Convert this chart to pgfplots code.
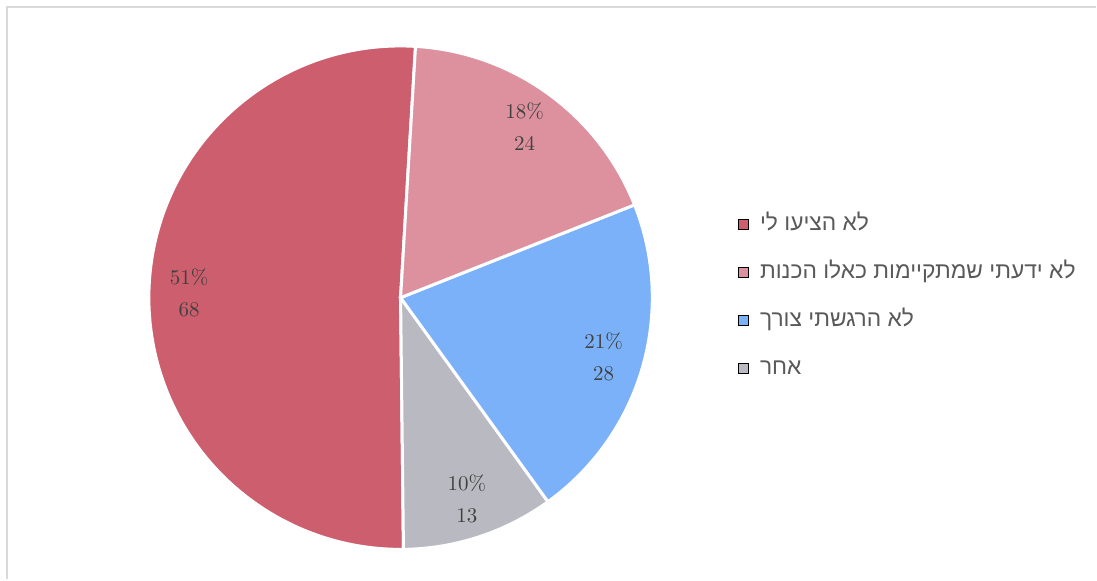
\documentclass[border=0pt]{standalone}
\usepackage{fontspec}
\usepackage{pgfplots}
\pgfplotsset{compat=1.18}
\TeXXeTstate=1
\newfontfamily\hebfont[Script=Hebrew]{Liberation Sans}
\definecolor{cRed}{HTML}{CD5E6E}
\definecolor{cPink}{HTML}{DD919E}
\definecolor{cBlue}{HTML}{7BB1F9}
\definecolor{cGray}{HTML}{B9B9C1}
\definecolor{txt}{HTML}{404040}
\definecolor{legtxt}{HTML}{595959}

% counts: 68, 13, 28, 24 (total 133), drawn counter-clockwise from the top
\def\total{133}
\pgfmathsetmacro\aS{86.6}
\pgfmathsetmacro\aA{\aS+68/\total*360}
\pgfmathsetmacro\aB{\aA+13/\total*360}
\pgfmathsetmacro\aC{\aB+28/\total*360}
\pgfmathsetmacro\aD{\aC+24/\total*360}
\pgfmathsetmacro\mA{(\aS+\aA)/2}
\pgfmathsetmacro\mB{(\aA+\aB)/2}
\pgfmathsetmacro\mC{(\aB+\aC)/2}
\pgfmathsetmacro\mD{(\aC+\aD)/2}
\def\lr{0.84}

\begin{document}
\begin{tikzpicture}
\begin{axis}[
    x=126pt, y=126pt,
    xmin=-1.5913, xmax=2.7619, ymin=-1.1190, ymax=1.1825,
    hide axis, clip=false,
    legend style={at={(axis cs:1.34,0.34)}, anchor=north west, draw=none,
        fill=none, font=\hebfont\fontsize{11.4}{13}\selectfont, text=legtxt,
        row sep=12pt, inner sep=0pt,
        nodes={inner sep=1pt, text height=8pt, text depth=2pt}},
    legend cell align=left,
    legend image code/.code={\fill[#1] (0pt,-2.5pt) rectangle (5pt,2.5pt); \path (9.5pt,0pt);},
]
% page extent and frame
\path (rel axis cs:0,0) rectangle (rel axis cs:1,1);
\draw[black!15, line width=1.2pt] (axis cs:-1.5635,-1.1190) -- (axis cs:-1.5635,1.1548) -- (axis cs:2.7619,1.1548);

\addlegendimage{fill=cRed}
\addlegendentry{\beginR לא הציעו לי\endR}
\addlegendimage{fill=cPink}
\addlegendentry{\beginR לא ידעתי שמתקיימות כאלו הכנות\endR}
\addlegendimage{fill=cBlue}
\addlegendentry{\beginR לא הרגשתי צורך\endR}
\addlegendimage{fill=cGray}
\addlegendentry{\beginR אחר\endR}

\fill[cRed, draw=white, line width=1.5pt] (axis cs:0,0) -- ++(\aS:126pt) arc[start angle=\aS, end angle=\aA, radius=126pt] -- cycle;
\fill[cGray, draw=white, line width=1.5pt] (axis cs:0,0) -- ++(\aA:126pt) arc[start angle=\aA, end angle=\aB, radius=126pt] -- cycle;
\fill[cBlue, draw=white, line width=1.5pt] (axis cs:0,0) -- ++(\aB:126pt) arc[start angle=\aB, end angle=\aC, radius=126pt] -- cycle;
\fill[cPink, draw=white, line width=1.5pt] (axis cs:0,0) -- ++(\aC:126pt) arc[start angle=\aC, end angle=\aD, radius=126pt] -- cycle;

\begin{scope}[every node/.style={align=center, text=txt, font=\fontsize{10.5}{16}\selectfont}]
\node at (axis cs:{\lr*cos(\mA)},{\lr*sin(\mA)}) {51\%\\68};
\node at (axis cs:{\lr*cos(\mB)},{\lr*sin(\mB)}) {10\%\\13};
\node at (axis cs:{\lr*cos(\mC)},{\lr*sin(\mC)}) {21\%\\28};
\node at (axis cs:{\lr*cos(\mD)},{\lr*sin(\mD)}) {18\%\\24};
\end{scope}
\end{axis}
\end{tikzpicture}
\end{document}
